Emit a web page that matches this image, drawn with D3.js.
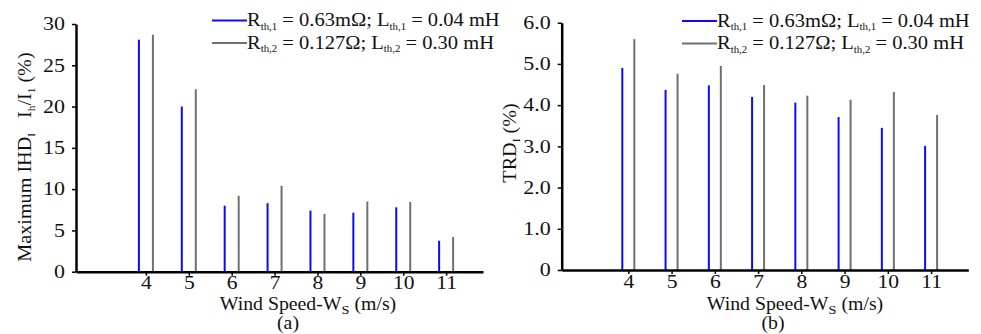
<!doctype html>
<html lang="en">
<head>
  <meta charset="utf-8">
  <title>Wind speed harmonics - D3</title>
  <style>
    body { margin: 0; background: #fff; }
    svg { display: block; font-family: "Liberation Serif", "DejaVu Serif", serif; }
  </style>
</head>
<body>
  <svg width="981" height="334"></svg>
  <script src="https://cdn.jsdelivr.net/npm/d3@7/dist/d3.min.js"></script>
  <script>
    var windSpeeds = [4, 5, 6, 7, 8, 9, 10, 11];
    // (a) maximum IHD
    var ihdCase1 = [28.1, 20.0, 8.0, 8.3, 7.4, 7.15, 7.8, 3.75];
    var ihdCase2 = [28.7, 22.1, 9.2, 10.4, 7.0, 8.5, 8.45, 4.2];
    // (b) TRD
    var trdCase1 = [4.9, 4.37, 4.48, 4.2, 4.06, 3.71, 3.45, 3.01];
    var trdCase2 = [5.6, 4.76, 4.95, 4.49, 4.23, 4.13, 4.32, 3.76];
    var ihdTicks = [0, 5, 10, 15, 20, 25, 30];
    var trdTicks = [0, 1, 2, 3, 4, 5, 6];

    var svg = d3.select('svg');
    var blue = '#0a0aff', gray = '#707070';
    var FS = 18;

    // text with subscripts: parts = [[text, isSub], ...]
    function richText(sel, parts, subSize) {
      var wasSub = false;
      parts.forEach(function (p) {
        var t = sel.append('tspan').text(p[0]);
        if (p[1]) {
          t.attr('font-size', subSize).attr('dy', wasSub ? 0 : 3.5);
        } else if (wasSub) {
          t.attr('dy', -3.5);
        }
        wasSub = !!p[1];
      });
    }

    // text placed at (x, y), stretched horizontally like the reference
    function stretchedText(parent, x, y, anchor, sx) {
      return parent.append('g').attr('transform', 'translate(' + x + ',' + y + ')')
        .append('text').attr('transform', 'scale(' + sx + ',1)')
        .attr('text-anchor', anchor).attr('font-size', FS).attr('fill', '#111');
    }

    function panel(o) {
      var x = d3.scaleLinear().domain([o.xmin, 11.86]).range([o.left, o.right]);
      var y = d3.scaleLinear().domain([0, o.ymax]).range([o.bottom, o.top]);
      var g = svg.append('g');

      var pairs = windSpeeds.map(function (w, i) { return { w: w, a: o.s1[i], b: o.s2[i] }; });
      g.selectAll('line.s1').data(pairs).enter().append('line')
        .attr('x1', d => x(d.w) - o.off).attr('x2', d => x(d.w) - o.off)
        .attr('y1', y(0)).attr('y2', d => y(d.a))
        .attr('stroke', blue).attr('stroke-width', 2);
      g.selectAll('line.s2').data(pairs).enter().append('line')
        .attr('x1', d => x(d.w) + o.off).attr('x2', d => x(d.w) + o.off)
        .attr('y1', y(0)).attr('y2', d => y(d.b))
        .attr('stroke', gray).attr('stroke-width', 2);

      var xAxis = g.append('g').attr('transform', 'translate(0,' + o.bottom + ')')
        .call(d3.axisBottom(x).tickValues(windSpeeds).tickSize(4).tickPadding(3).tickSizeOuter(0).tickFormat(d3.format('d')));
      var yAxis = g.append('g').attr('transform', 'translate(' + o.left + ',0)')
        .call(d3.axisLeft(y).tickValues(o.ticks).tickSize(4).tickPadding(1).tickSizeOuter(0).tickFormat(o.fmt));
      [xAxis, yAxis].forEach(function (a) {
        a.select('.domain').attr('stroke', '#000').attr('stroke-width', 2.5);
        a.selectAll('.tick line').attr('stroke', '#000').attr('stroke-width', 1.5);
        a.selectAll('.tick text').attr('font-family', 'Liberation Serif').attr('font-size', FS).attr('fill', '#111');
      });
      xAxis.selectAll('.tick text').attr('dy', '0.6em').attr('transform', 'scale(1.2,1)');
      yAxis.selectAll('.tick text').attr('transform', 'translate(-5,0) scale(1.22,1)');

      // legend
      var leg = [[blue, o.legend1], [gray, o.legend2]];
      leg.forEach(function (l, i) {
        var ly = o.legY + i * 22.5;
        g.append('line').attr('x1', o.legX - 35).attr('x2', o.legX).attr('y1', ly).attr('y2', ly)
          .attr('stroke', l[0]).attr('stroke-width', 2);
        var t = stretchedText(g, o.legX, ly + 5.5, 'start', 1.14);
        richText(t, l[1], 9.5);
      });

      // x title and caption
      var xt = stretchedText(g, o.xTitleX, 310, 'middle', 1.1);
      richText(xt, [['Wind Speed-W', 0], ['S', 1], [' (m/s)', 0]], 13);
      stretchedText(g, o.capX, 329, 'middle', 1.1).text(o.caption);

      // y title
      var yt = g.append('g').attr('transform', 'translate(' + o.yTitleX + ',' + o.yTitleY + ') rotate(-90)')
        .append('text').attr('transform', 'scale(1.12,1)')
        .attr('text-anchor', 'middle').attr('font-size', FS).attr('fill', '#111');
      richText(yt, o.yTitle, 10);
    }

    var legA = [['R', 0], ['th,1', 1], [' = 0.63mΩ; L', 0], ['th,1', 1], [' = 0.04 mH', 0]];
    var legB = [['R', 0], ['th,2', 1], [' = 0.127Ω; L', 0], ['th,2', 1], [' = 0.30 mH', 0]];

    panel({
      left: 76, right: 483, top: 24, bottom: 271.7, xmin: 2.37, ymax: 30, off: 7,
      s1: ihdCase1, s2: ihdCase2, ticks: ihdTicks, fmt: d3.format('d'),
      legX: 247, legY: 20.5, legend1: legA, legend2: legB,
      xTitleX: 308, capX: 288, caption: '(a)',
      yTitleX: 31, yTitleY: 157,
      yTitle: [['Maximum IHD', 0], ['I', 1], ['\u00a0\u00a0\u00a0I', 0], ['h', 1], ['/I', 0], ['1', 1], [' (%)', 0]]
    });

    panel({
      left: 561.7, right: 968.3, top: 22.7, bottom: 270, xmin: 2.46, ymax: 6, off: 6,
      s1: trdCase1, s2: trdCase2, ticks: trdTicks, fmt: d => d === 0 ? '0' : d3.format('.1f')(d),
      legX: 717, legY: 21, legend1: legA, legend2: legB,
      xTitleX: 795, capX: 773, caption: '(b)',
      yTitleX: 516, yTitleY: 143,
      yTitle: [['TRD', 0], ['I', 1], [' (%)', 0]]
    });
  </script>
</body>
</html>
